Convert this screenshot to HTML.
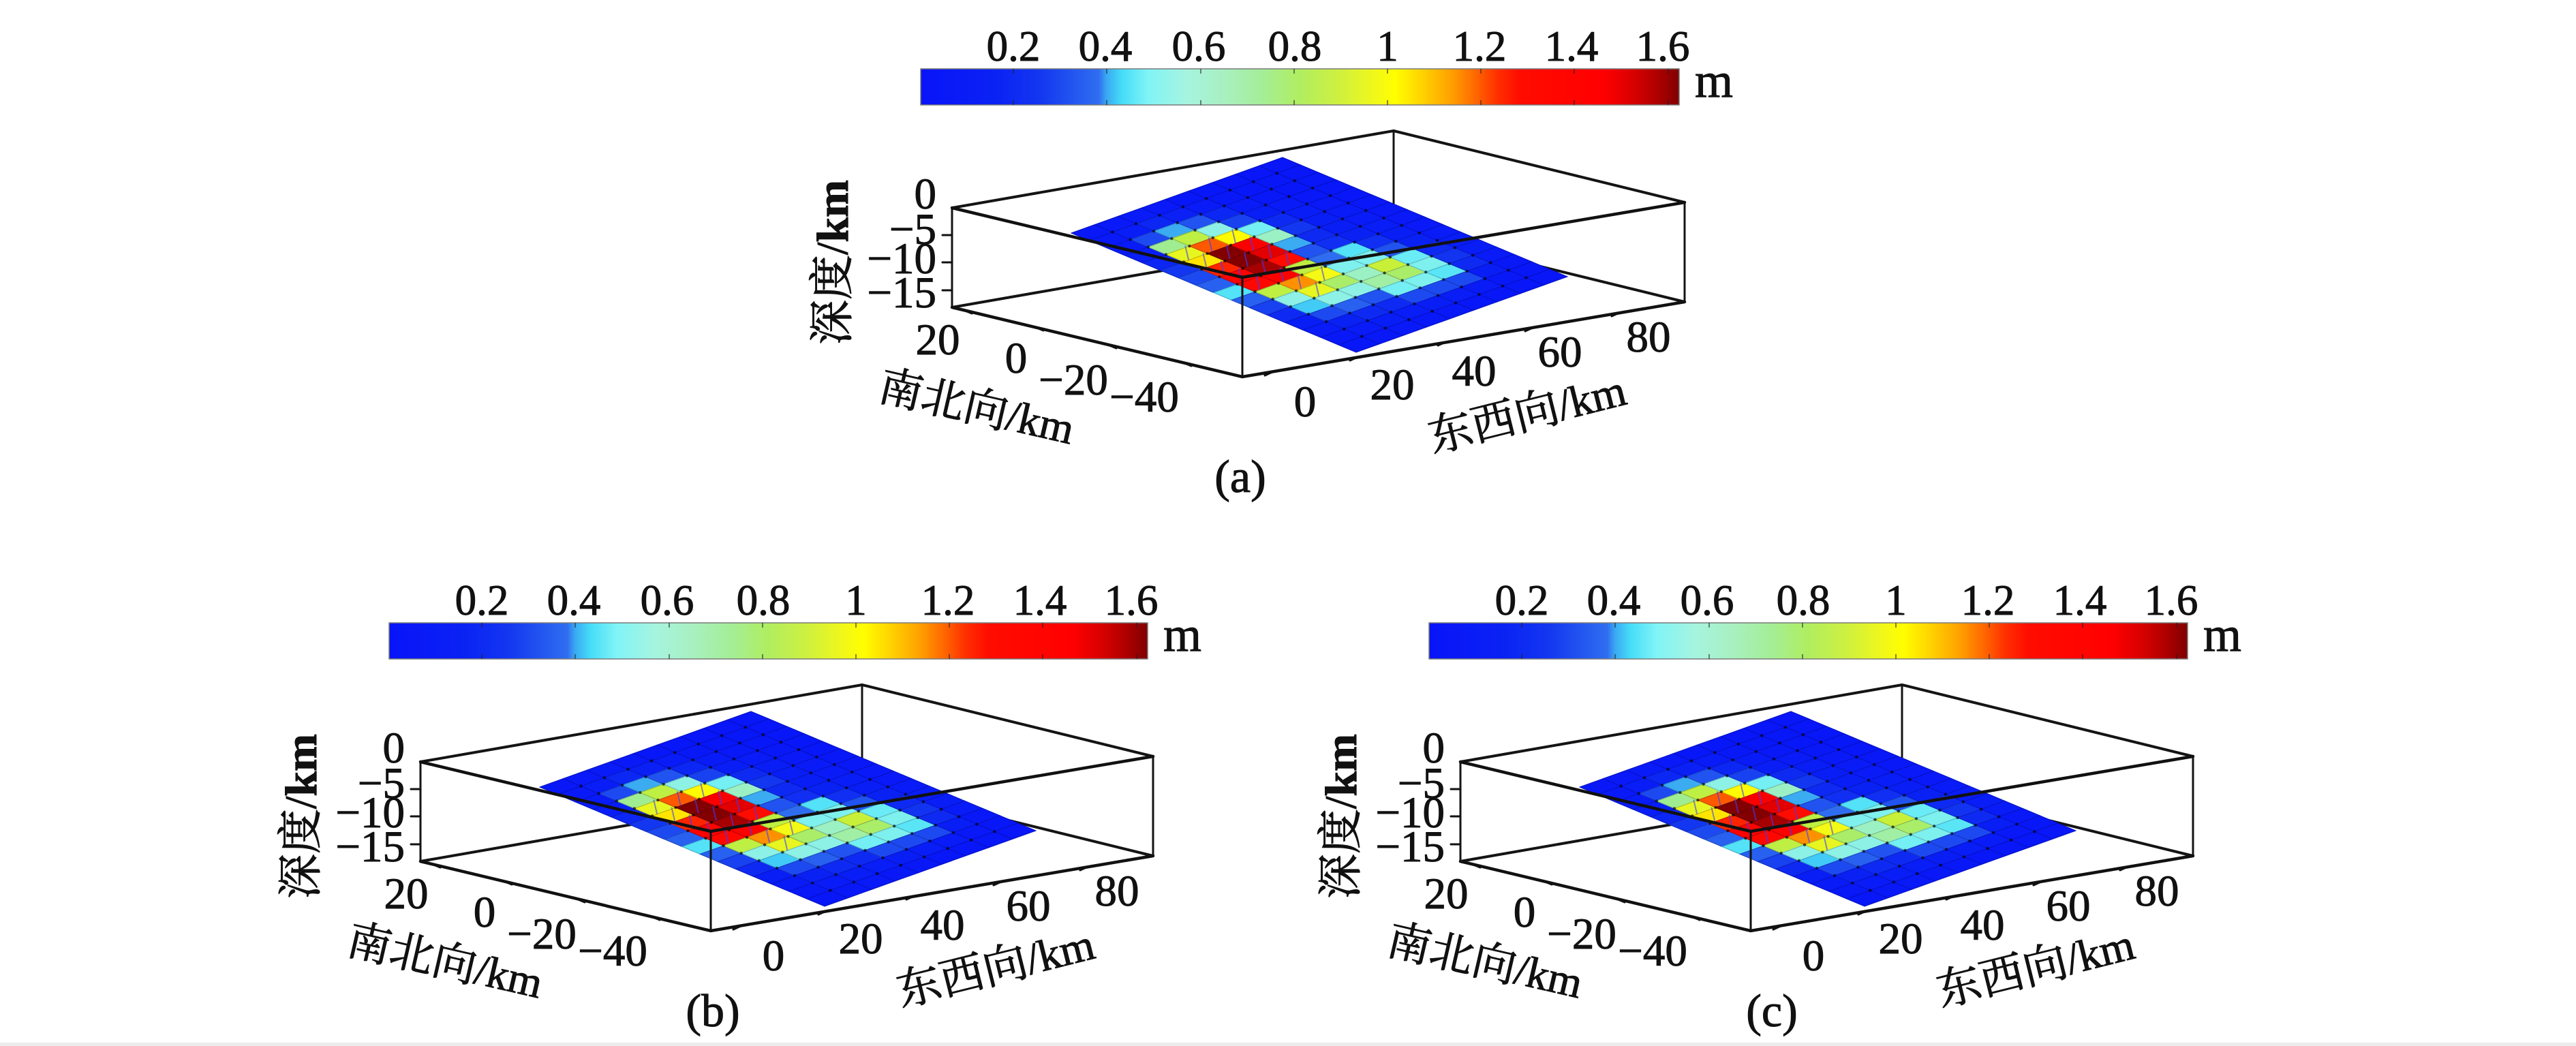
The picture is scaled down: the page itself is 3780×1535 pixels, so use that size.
<!DOCTYPE html>
<html><head><meta charset="utf-8">
<style>
html,body{margin:0;padding:0;background:#fff;}
svg{display:block}
.t{font-family:"Liberation Serif","Noto Serif CJK SC",serif;fill:#111;stroke:#111;stroke-width:1}
</style></head><body>
<svg xmlns="http://www.w3.org/2000/svg" width="3780" height="1535" viewBox="0 0 3780 1535">
<defs>
<linearGradient id="jet" x1="0" x2="1" y1="0" y2="0">
<stop offset="0" stop-color="#0814f8"/>
<stop offset="0.10" stop-color="#0a22f4"/>
<stop offset="0.16" stop-color="#1438f0"/>
<stop offset="0.235" stop-color="#2f6ef0"/>
<stop offset="0.245" stop-color="#3aa8f2"/>
<stop offset="0.265" stop-color="#45dcf8"/>
<stop offset="0.30" stop-color="#80f4f6"/>
<stop offset="0.35" stop-color="#a6f4e0"/>
<stop offset="0.40" stop-color="#a8f0c0"/>
<stop offset="0.45" stop-color="#a4ee98"/>
<stop offset="0.50" stop-color="#b0ee60"/>
<stop offset="0.55" stop-color="#cef040"/>
<stop offset="0.60" stop-color="#f2f818"/>
<stop offset="0.625" stop-color="#ffff00"/>
<stop offset="0.66" stop-color="#ffd400"/>
<stop offset="0.70" stop-color="#ffa000"/>
<stop offset="0.73" stop-color="#ff6a00"/>
<stop offset="0.76" stop-color="#ff3000"/>
<stop offset="0.79" stop-color="#ff0c00"/>
<stop offset="0.90" stop-color="#ff0000"/>
<stop offset="0.94" stop-color="#d80000"/>
<stop offset="0.97" stop-color="#b00000"/>
<stop offset="1" stop-color="#800000"/>
</linearGradient>
</defs>
<rect width="3780" height="1535" fill="#fff"/>
<rect y="1530" width="3780" height="5" fill="#ececec"/>

<!-- PANEL A -->
<g id="pa">
<rect x="1351" y="101" width="1113" height="53" fill="url(#jet)" stroke="#7a7a7a" stroke-width="1.5"/>
<path d="M1487 101v7M1487 154v-7M1624 101v7M1624 154v-7M1762 101v7M1762 154v-7M1899 101v7M1899 154v-7M2036 101v7M2036 154v-7M2173 101v7M2173 154v-7M2310 101v7M2310 154v-7M2448 101v7M2448 154v-7" stroke="#222" stroke-opacity="0.55" stroke-width="2"/>
<g class="t" font-size="63" text-anchor="middle">
<text x="1487" y="89">0.2</text><text x="1622" y="89">0.4</text><text x="1759" y="89">0.6</text><text x="1900" y="89">0.8</text><text x="2036" y="89">1</text><text x="2171" y="89">1.2</text><text x="2306" y="89">1.4</text><text x="2440" y="89">1.6</text>
</g>
<text class="t" x="2487" y="142" font-size="72">m</text>
<g fill="none" stroke="#141414" stroke-linecap="round">
<path d="M2045 192L1397 305M2045 192L2472 297M2045 338L1397 451M2045 338L2472 443" stroke-width="4"/>
<path d="M2045 192V338M1397 305V451M2472 297V443" stroke-width="3"/>
</g>
<polygon points="1572,342 1882,231 2300,406 1990,517" fill="#0a26f2"/>
<g class="surf"></g>
<g fill="none" stroke="#111" stroke-linecap="round">
<path d="M1397 305L1823 407L2472 297M1397 451L1823 553L2472 443" stroke-width="4.5"/>
<path d="M1823 407V553" stroke-width="3"/>
<path d="M1383 345H1397M1383 385H1397M1383 426H1397M1414 455l12 5M1519 480l12 5M1626 506l12 5M1736 532l12 5M1867 546l-11 5M1992 524l-11 5M2121 502l-11 5M2249 481l-11 5M2376 459l-11 5" stroke-width="3"/>
</g>
<g class="t" font-size="65" text-anchor="end">
<text x="1374" y="306">0</text><text x="1374" y="358">−5</text><text x="1374" y="401">−10</text><text x="1374" y="451">−15</text>
</g>
<text class="t" transform="translate(1222,385) rotate(-90)" font-size="66" text-anchor="middle" dominant-baseline="central">深度/<tspan font-weight="bold">km</tspan></text>
<g class="t" font-size="65" text-anchor="middle">
<text x="1376" y="520">20</text><text x="1491" y="547">0</text><text x="1575" y="579">−20</text><text x="1679" y="604">−40</text>
<text x="1915" y="611">0</text><text x="2043" y="586">20</text><text x="2163" y="566">40</text><text x="2289" y="538">60</text><text x="2419" y="516">80</text>
</g>
<text class="t" transform="translate(1433,598) rotate(13)" font-size="64" text-anchor="middle" dominant-baseline="central">南北向/km</text>
<text class="t" transform="translate(2241,608) rotate(-14)" font-size="65" text-anchor="middle" dominant-baseline="central">东西向/km</text>
</g>

<!-- PANEL B -->
<g id="pb" transform="translate(-780,813)">
<rect x="1351" y="101" width="1113" height="53" fill="url(#jet)" stroke="#7a7a7a" stroke-width="1.5"/>
<path d="M1487 101v7M1487 154v-7M1624 101v7M1624 154v-7M1762 101v7M1762 154v-7M1899 101v7M1899 154v-7M2036 101v7M2036 154v-7M2173 101v7M2173 154v-7M2310 101v7M2310 154v-7M2448 101v7M2448 154v-7" stroke="#222" stroke-opacity="0.55" stroke-width="2"/>
<g class="t" font-size="63" text-anchor="middle">
<text x="1487" y="89">0.2</text><text x="1622" y="89">0.4</text><text x="1759" y="89">0.6</text><text x="1900" y="89">0.8</text><text x="2036" y="89">1</text><text x="2171" y="89">1.2</text><text x="2306" y="89">1.4</text><text x="2440" y="89">1.6</text>
</g>
<text class="t" x="2487" y="142" font-size="72">m</text>
<g fill="none" stroke="#141414" stroke-linecap="round">
<path d="M2045 192L1397 305M2045 192L2472 297M2045 338L1397 451M2045 338L2472 443" stroke-width="4"/>
<path d="M2045 192V338M1397 305V451M2472 297V443" stroke-width="3"/>
</g>
<polygon points="1572,342 1882,231 2300,406 1990,517" fill="#0a26f2"/>
<g class="surf"></g>
<g fill="none" stroke="#111" stroke-linecap="round">
<path d="M1397 305L1823 407L2472 297M1397 451L1823 553L2472 443" stroke-width="4.5"/>
<path d="M1823 407V553" stroke-width="3"/>
<path d="M1383 345H1397M1383 385H1397M1383 426H1397M1414 455l12 5M1519 480l12 5M1626 506l12 5M1736 532l12 5M1867 546l-11 5M1992 524l-11 5M2121 502l-11 5M2249 481l-11 5M2376 459l-11 5" stroke-width="3"/>
</g>
<g class="t" font-size="65" text-anchor="end">
<text x="1374" y="306">0</text><text x="1374" y="358">−5</text><text x="1374" y="401">−10</text><text x="1374" y="451">−15</text>
</g>
<text class="t" transform="translate(1222,385) rotate(-90)" font-size="66" text-anchor="middle" dominant-baseline="central">深度/<tspan font-weight="bold">km</tspan></text>
<g class="t" font-size="65" text-anchor="middle">
<text x="1376" y="520">20</text><text x="1491" y="547">0</text><text x="1575" y="579">−20</text><text x="1679" y="604">−40</text>
<text x="1915" y="611">0</text><text x="2043" y="586">20</text><text x="2163" y="566">40</text><text x="2289" y="538">60</text><text x="2419" y="516">80</text>
</g>
<text class="t" transform="translate(1433,598) rotate(13)" font-size="64" text-anchor="middle" dominant-baseline="central">南北向/km</text>
<text class="t" transform="translate(2241,608) rotate(-14)" font-size="65" text-anchor="middle" dominant-baseline="central">东西向/km</text>
</g>

<!-- PANEL C -->
<g id="pc" transform="translate(746,813)">
<rect x="1351" y="101" width="1113" height="53" fill="url(#jet)" stroke="#7a7a7a" stroke-width="1.5"/>
<path d="M1487 101v7M1487 154v-7M1624 101v7M1624 154v-7M1762 101v7M1762 154v-7M1899 101v7M1899 154v-7M2036 101v7M2036 154v-7M2173 101v7M2173 154v-7M2310 101v7M2310 154v-7M2448 101v7M2448 154v-7" stroke="#222" stroke-opacity="0.55" stroke-width="2"/>
<g class="t" font-size="63" text-anchor="middle">
<text x="1487" y="89">0.2</text><text x="1622" y="89">0.4</text><text x="1759" y="89">0.6</text><text x="1900" y="89">0.8</text><text x="2036" y="89">1</text><text x="2171" y="89">1.2</text><text x="2306" y="89">1.4</text><text x="2440" y="89">1.6</text>
</g>
<text class="t" x="2487" y="142" font-size="72">m</text>
<g fill="none" stroke="#141414" stroke-linecap="round">
<path d="M2045 192L1397 305M2045 192L2472 297M2045 338L1397 451M2045 338L2472 443" stroke-width="4"/>
<path d="M2045 192V338M1397 305V451M2472 297V443" stroke-width="3"/>
</g>
<polygon points="1572,342 1882,231 2300,406 1990,517" fill="#0a26f2"/>
<g class="surf"></g>
<g fill="none" stroke="#111" stroke-linecap="round">
<path d="M1397 305L1823 407L2472 297M1397 451L1823 553L2472 443" stroke-width="4.5"/>
<path d="M1823 407V553" stroke-width="3"/>
<path d="M1383 345H1397M1383 385H1397M1383 426H1397M1414 455l12 5M1519 480l12 5M1626 506l12 5M1736 532l12 5M1867 546l-11 5M1992 524l-11 5M2121 502l-11 5M2249 481l-11 5M2376 459l-11 5" stroke-width="3"/>
</g>
<g class="t" font-size="65" text-anchor="end">
<text x="1374" y="306">0</text><text x="1374" y="358">−5</text><text x="1374" y="401">−10</text><text x="1374" y="451">−15</text>
</g>
<text class="t" transform="translate(1222,385) rotate(-90)" font-size="66" text-anchor="middle" dominant-baseline="central">深度/<tspan font-weight="bold">km</tspan></text>
<g class="t" font-size="65" text-anchor="middle">
<text x="1376" y="520">20</text><text x="1491" y="547">0</text><text x="1575" y="579">−20</text><text x="1679" y="604">−40</text>
<text x="1915" y="611">0</text><text x="2043" y="586">20</text><text x="2163" y="566">40</text><text x="2289" y="538">60</text><text x="2419" y="516">80</text>
</g>
<text class="t" transform="translate(1433,598) rotate(13)" font-size="64" text-anchor="middle" dominant-baseline="central">南北向/km</text>
<text class="t" transform="translate(2241,608) rotate(-14)" font-size="65" text-anchor="middle" dominant-baseline="central">东西向/km</text>
</g>

<g class="t" font-size="68" text-anchor="middle">
<text x="1820" y="722">(a)</text>
<text x="1046" y="1506">(b)</text>
<text x="2600" y="1506">(c)</text>
</g>
</svg>
<script>
(function(){
var V=[
[0.05,0.06,0.08,0.10,0.18,0.25,0.30,0.35,0.45,0.35,0.28,0.20,0.12,0.08,0.05,0.04],
[0.06,0.10,0.30,0.72,0.95,1.05,1.25,1.40,1.35,0.85,0.55,0.42,0.30,0.15,0.08,0.05],
[0.08,0.18,0.40,0.85,1.20,1.62,1.62,1.58,1.42,1.15,0.95,0.55,0.35,0.20,0.10,0.06],
[0.06,0.14,0.32,0.55,1.02,1.45,1.50,1.30,0.85,0.98,0.78,0.55,0.32,0.20,0.10,0.05],
[0.04,0.08,0.18,0.28,0.50,0.62,0.40,0.32,0.38,0.52,0.62,0.68,0.50,0.30,0.12,0.05],
[0.03,0.05,0.08,0.12,0.20,0.25,0.20,0.22,0.45,0.52,0.88,0.78,0.52,0.30,0.10,0.04],
[0.02,0.04,0.05,0.08,0.10,0.12,0.12,0.15,0.22,0.32,0.48,0.52,0.46,0.30,0.08,0.03],
[0.02,0.03,0.04,0.05,0.06,0.08,0.08,0.10,0.12,0.15,0.20,0.24,0.20,0.12,0.05,0.03],
[0.02,0.02,0.03,0.03,0.04,0.05,0.05,0.06,0.06,0.08,0.10,0.10,0.08,0.05,0.03,0.02]];
var st=[[0,[8,20,248]],[0.10,[10,34,244]],[0.16,[20,56,240]],[0.235,[47,110,240]],[0.245,[58,168,242]],[0.265,[69,220,248]],[0.30,[110,238,246]],[0.35,[150,242,224]],[0.40,[160,240,180]],[0.45,[160,236,140]],[0.50,[176,238,80]],[0.55,[206,240,52]],[0.60,[242,248,24]],[0.625,[255,255,0]],[0.66,[255,212,0]],[0.70,[255,160,0]],[0.73,[255,106,0]],[0.76,[255,48,0]],[0.79,[255,12,0]],[0.90,[250,0,0]],[0.94,[210,0,0]],[0.97,[170,0,0]],[1,[128,0,0]]];
function col(v){var t=Math.max(0,Math.min(1,v/1.624));for(var k=1;k<st.length;k++){if(t<=st[k][0]){var a=st[k-1],b=st[k],f=(t-a[0])/(b[0]-a[0]);return 'rgb('+[0,1,2].map(function(m){return Math.round(a[1][m]+(b[1][m]-a[1][m])*f);}).join(',')+')';}}return 'rgb(128,0,0)';}
var NS=16,ND=9,Lx=1572,Ly=342,Sx=418,Sy=175,Dx=310,Dy=-111;
function P(i,j){return [Lx+i/NS*Sx+j/ND*Dx,Ly+i/NS*Sy+j/ND*Dy];}
function f(p){return p[0].toFixed(1)+','+p[1].toFixed(1);}
var h='';
for(var j=0;j<ND;j++)for(var i=0;i<NS;i++){
 var c=col(V[j][i]);
 h+='<polygon points="'+f(P(i,j))+' '+f(P(i+1,j))+' '+f(P(i+1,j+1))+' '+f(P(i,j+1))+'" fill="'+c+'" stroke="'+c+'" stroke-width="1"/>';
}
var g='';
for(var i=0;i<=NS;i++){var a=P(i,0),b=P(i,ND);g+='M'+f(a)+'L'+f(b);}
for(var j=0;j<=ND;j++){var a=P(0,j),b=P(NS,j);g+='M'+f(a)+'L'+f(b);}
h+='<path d="'+g+'" fill="none" stroke="#00001e" stroke-opacity="0.22" stroke-width="1.2"/>';
for(var j=1;j<ND;j++)for(var i=1;i<NS;i++){var p=P(i,j);h+='<circle cx="'+p[0].toFixed(1)+'" cy="'+p[1].toFixed(1)+'" r="2.2" fill="#000" fill-opacity="0.65"/>';}
var ar='';
for(var j=0;j<ND;j++)for(var i=0;i<NS;i++){
 var v=V[j][i];if(v<0.9)continue;
 var p=P(i+0.5,j+0.5);
 ar+='M'+(p[0]+3).toFixed(1)+','+(p[1]+9).toFixed(1)+'L'+(p[0]-2).toFixed(1)+','+(p[1]-12).toFixed(1);
}
h+='<path d="'+ar+'" fill="none" stroke="#3a40ff" stroke-opacity="0.6" stroke-width="2"/>';
var gs=document.querySelectorAll('g.surf');
for(var k=0;k<gs.length;k++){gs[k].innerHTML=h;}
})();
</script>
</body></html>
